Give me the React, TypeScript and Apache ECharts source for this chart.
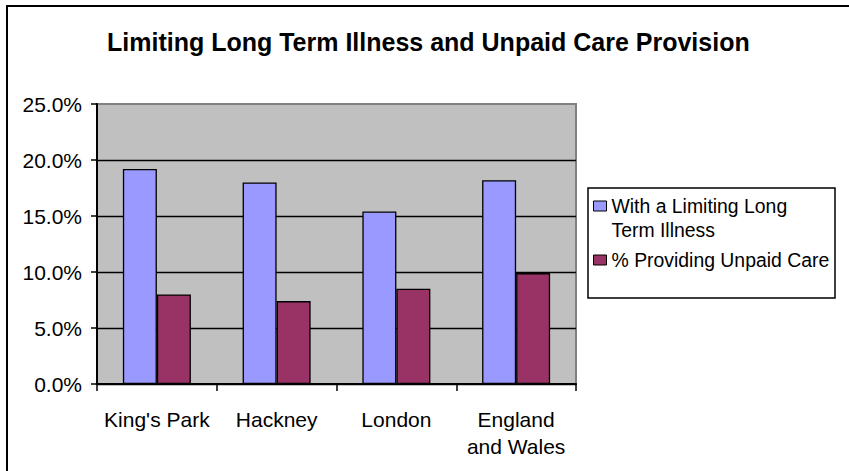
import React, { useEffect, useRef } from "react";
import * as echarts from "echarts";

const categories = ["King's Park", "Hackney", "London", "England\nand Wales"];
const illnessValues = [19.2, 18.0, 15.4, 18.2];
const careValues = [8.0, 7.4, 8.5, 9.9];
const seriesNames = ["With a Limiting Long Term Illness", "% Providing Unpaid Care"];
const legendLabels: Record<string, string> = {
  "With a Limiting Long Term Illness": "\nWith a Limiting Long\nTerm Illness",
  "% Providing Unpaid Care": "% Providing Unpaid Care",
};
const titleText = "Limiting Long Term Illness and Unpaid Care Provision";

const FONT = "Liberation Sans, Arial, sans-serif";

export default function App() {
  const ref = useRef<HTMLDivElement>(null);
  useEffect(() => {
    document.body.style.margin = "0";
    const chart = echarts.init(ref.current!, null, { renderer: "svg" });
    chart.setOption({
      animation: false,
      backgroundColor: "#ffffff",
      title: {
        text: titleText,
        left: 107,
        top: 29,
        padding: 0,
        textStyle: { fontSize: 25, fontWeight: "bold", fontFamily: FONT, color: "#000", lineHeight: 26 },
      },
      graphic: [
        {
          type: "rect",
          shape: { x: 7, y: 6, width: 900, height: 520 },
          style: { fill: "none", stroke: "#000", lineWidth: 2 },
          silent: true,
        },
        {
          type: "rect",
          shape: { x: 588, y: 188, width: 247, height: 110 },
          style: { fill: "#fff", stroke: "#000", lineWidth: 1.5 },
          silent: true,
          z: 0,
        },
      ],
      legend: {
        orient: "vertical",
        left: 593,
        top: 170,
        padding: 0,
        itemGap: 6,
        itemWidth: 13,
        itemHeight: 10,
        icon: "rect",
        z: 5,
        data: seriesNames,
        formatter: (name: string) => legendLabels[name] ?? name,
        textStyle: { fontSize: 19.4, fontFamily: FONT, color: "#000", lineHeight: 24 },
        itemStyle: { borderColor: "#000", borderWidth: 1 },
      },
      grid: {
        left: 97,
        top: 104,
        right: 273,
        bottom: 87,
        show: true,
        backgroundColor: "#C0C0C0",
        borderColor: "#808080",
        borderWidth: 2,
      },
      xAxis: {
        type: "category",
        data: categories,
        axisLine: { lineStyle: { color: "#000", width: 2 } },
        axisTick: { show: true, length: 7, interval: 0, lineStyle: { color: "#000", width: 1.5 } },
        axisLabel: {
          interval: 0,
          margin: 22,
          fontSize: 21,
          lineHeight: 27,
          fontFamily: FONT,
          color: "#000",
        },
      },
      yAxis: {
        type: "value",
        min: 0,
        max: 25,
        interval: 5,
        axisLine: { show: true, lineStyle: { color: "#000", width: 2 } },
        axisTick: { show: true, length: 6, lineStyle: { color: "#000", width: 1.5 } },
        axisLabel: {
          margin: 15,
          fontSize: 21,
          fontFamily: FONT,
          color: "#000",
          formatter: (v: number) => v.toFixed(1) + "%",
        },
        splitLine: { show: true, showMaxLine: false, lineStyle: { color: "#000", width: 1.3 } },
      },
      series: [
        {
          name: seriesNames[0],
          type: "bar",
          data: illnessValues,
          barWidth: 34,
          barGap: "0%",
          itemStyle: { color: "#9999FF", borderColor: "#000", borderWidth: 1.3 },
        },
        {
          name: seriesNames[1],
          type: "bar",
          data: careValues,
          barWidth: 34,
          barGap: "0%",
          itemStyle: { color: "#993366", borderColor: "#000", borderWidth: 1.3 },
        },
      ],
    });
    return () => chart.dispose();
  }, []);
  return <div ref={ref} style={{ width: 849, height: 471 }} />;
}
